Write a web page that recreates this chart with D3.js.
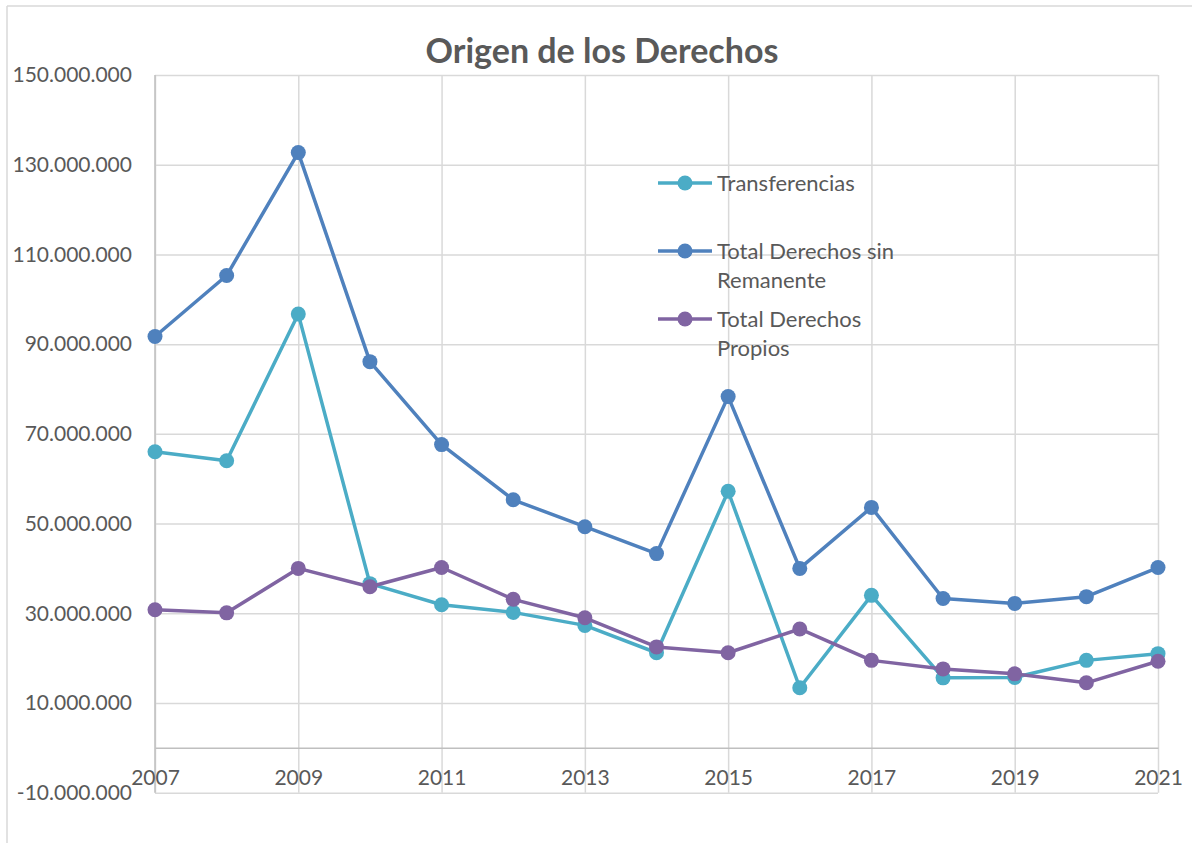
<!DOCTYPE html>
<html>
<head>
<meta charset="UTF-8">
<title>Origen de los Derechos</title>
<script src="https://d3js.org/d3.v7.min.js"></script>
<style>
    body { margin: 0; background: #fff; }
    text { font-family: Lato, "Open Sans", sans-serif; fill: #595959; }
</style>
</head>
<body>
<svg width="1192" height="843"></svg>
<script>
    // datos
    var years = [2007, 2008, 2009, 2010, 2011, 2012, 2013, 2014, 2015, 2016, 2017, 2018, 2019, 2020, 2021];
    var transferencias = [66.0, 64.0, 96.7, 36.6, 31.9, 30.2, 27.3, 21.2, 57.2, 13.4, 34.0, 15.6, 15.7, 19.5, 21.0];
    var totalSinRemanente = [91.7, 105.3, 132.7, 86.1, 67.6, 55.3, 49.3, 43.3, 78.3, 40.0, 53.6, 33.3, 32.2, 33.7, 40.2];
    var totalPropios = [30.8, 30.1, 40.0, 35.9, 40.2, 33.1, 29.0, 22.5, 21.2, 26.5, 19.5, 17.6, 16.5, 14.5, 19.3];
    var yTicks = [-10, 10, 30, 50, 70, 90, 110, 130, 150];
    var xTicks = [2007, 2009, 2011, 2013, 2015, 2017, 2019, 2021];
    var seriesNames = [["Transferencias"], ["Total Derechos sin", "Remanente"], ["Total Derechos", "Propios"]];
    var colors = ["#4BACC6", "#4F81BD", "#8064A2"];

    var svg = d3.select("svg");
    var plot = { left: 155, right: 1158, top: 75, bottom: 792.7 };

    var es = d3.formatLocale({ decimal: ",", thousands: ".", grouping: [3], currency: ["", ""], minus: "-" });
    var fmt = es.format(",d");

    var x = d3.scaleLinear().domain([2007, 2021]).range([plot.left, plot.right]);
    var y = d3.scaleLinear().domain([-10, 150]).range([plot.bottom, plot.top]);

    // marco del gráfico
    svg.append("line").attr("x1", 7).attr("x2", 1192).attr("y1", 6).attr("y2", 6)
        .attr("stroke", "#d9d9d9").attr("stroke-width", 1.5);
    svg.append("line").attr("x1", 7).attr("x2", 7).attr("y1", 6).attr("y2", 843)
        .attr("stroke", "#d9d9d9").attr("stroke-width", 1.5);

    // título
    svg.append("text")
        .attr("x", 602).attr("y", 63)
        .attr("text-anchor", "middle")
        .attr("font-size", "34px")
        .attr("font-weight", "bold")
        .text("Origen de los Derechos");

    // eje y con líneas de cuadrícula
    var yAxis = d3.axisLeft(y)
        .tickValues(yTicks)
        .tickSize(-(plot.right - plot.left))
        .tickPadding(23)
        .tickFormat(function(d) { return fmt(d * 1e6); });
    var gy = svg.append("g")
        .attr("transform", "translate(" + plot.left + ",0)")
        .call(yAxis);
    gy.select(".domain").remove();
    gy.selectAll("line").attr("stroke", "#d9d9d9").attr("stroke-width", 1.5);
    gy.selectAll("text").attr("font-size", "21px").attr("fill", "#595959");

    // cuadrícula vertical
    var xGrid = d3.axisBottom(x)
        .tickValues(xTicks)
        .tickSize(-(plot.bottom - plot.top))
        .tickFormat("");
    var gxg = svg.append("g")
        .attr("transform", "translate(0," + plot.bottom + ")")
        .call(xGrid);
    gxg.select(".domain").remove();
    gxg.selectAll("line").attr("stroke", "#d9d9d9").attr("stroke-width", 1.5);

    // eje vertical izquierdo
    svg.append("line")
        .attr("x1", plot.left).attr("x2", plot.left)
        .attr("y1", plot.top).attr("y2", plot.bottom)
        .attr("stroke", "#bfbfbf").attr("stroke-width", 1.5);

    // eje x en cero
    var xAxis = d3.axisBottom(x)
        .tickValues(xTicks)
        .tickSize(0)
        .tickFormat(d3.format("d"));
    var gx = svg.append("g")
        .attr("transform", "translate(0," + y(0) + ")")
        .call(xAxis);
    gx.select(".domain").attr("stroke", "#bfbfbf").attr("stroke-width", 1.5);
    gx.selectAll("text")
        .attr("y", 37).attr("dy", 0)
        .attr("font-size", "21px").attr("fill", "#595959");

    // series
    var data = [transferencias, totalSinRemanente, totalPropios];
    var line = d3.line()
        .x(function(d, i) { return x(years[i]); })
        .y(function(d) { return y(d); });

    data.forEach(function(serie, k) {
        var g = svg.append("g");
        g.append("path")
            .datum(serie)
            .attr("d", line)
            .attr("fill", "none")
            .attr("stroke", colors[k])
            .attr("stroke-width", 3.5)
            .attr("stroke-linejoin", "round");
        g.selectAll("circle")
            .data(serie)
            .enter().append("circle")
            .attr("cx", function(d, i) { return x(years[i]); })
            .attr("cy", function(d) { return y(d); })
            .attr("r", 7.5)
            .attr("fill", colors[k]);
    });

    // leyenda
    var legendY = [183, 251, 319];
    seriesNames.forEach(function(name, k) {
        var lg = svg.append("g").attr("transform", "translate(658," + legendY[k] + ")");
        lg.append("line").attr("x1", 0).attr("x2", 54).attr("y1", 0).attr("y2", 0)
            .attr("stroke", colors[k]).attr("stroke-width", 3.5);
        lg.append("circle").attr("cx", 27).attr("cy", 0).attr("r", 7.5).attr("fill", colors[k]);
        var t = lg.append("text")
            .attr("x", 59).attr("y", 8)
            .attr("font-size", "22px");
        name.forEach(function(s, j) {
            t.append("tspan").attr("x", 59).attr("dy", j === 0 ? 0 : 29).text(s);
        });
    });
</script>
</body>
</html>
